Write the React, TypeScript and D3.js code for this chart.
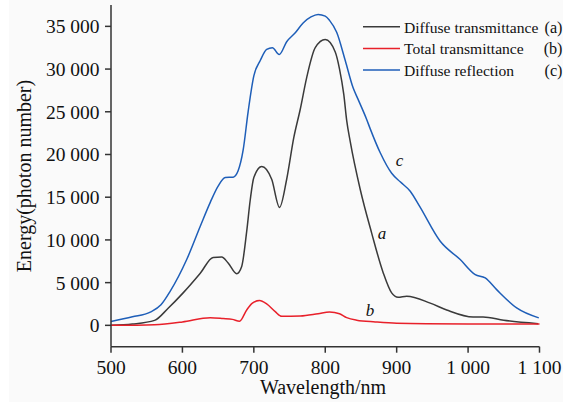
import React from "react";
import * as d3 from "d3";

const seriesA: [number, number][] = [
  [500, 0], [530, 150], [561, 580], [580, 2000], [601, 3800], [625, 6100], [643, 7950], [655, 8000],
  [664, 7300], [676, 6050], [683, 6900], [690, 11000], [695, 14700], [700, 17300], [711, 18600],
  [725, 17100], [736, 13800], [746, 17100], [756, 22000], [765, 25300], [774, 29000], [786, 32500],
  [800, 33450], [814, 32000], [820, 30000], [826, 27000], [830, 24000], [835, 21500], [849, 15900],
  [865, 10800], [881, 6200], [893, 3800], [902, 3280], [914, 3400], [947, 2600], [970, 1800],
  [1007, 980], [1021, 980], [1050, 600], [1098, 200],
];

const seriesB: [number, number][] = [
  [500, 0], [561, 80], [600, 400], [639, 900], [657, 800], [670, 700], [680, 480], [690, 1800],
  [698, 2600], [708, 2900], [718, 2500], [730, 1600], [739, 1050], [765, 1080], [790, 1350],
  [806, 1550], [820, 1350], [830, 900], [844, 600], [870, 400], [900, 250], [1000, 170], [1100, 150],
];

const seriesC: [number, number][] = [
  [500, 450], [530, 1000], [555, 1550], [570, 2400], [583, 4000], [606, 7700], [625, 11600],
  [639, 14400], [650, 16300], [660, 17300], [671, 17350], [678, 18100], [685, 20500], [692, 25000],
  [700, 29200], [709, 31000], [718, 32300], [726, 32500], [735.5, 31700], [746, 33200], [758, 34250],
  [769, 35400], [780, 36100], [790, 36400], [800, 36200], [806, 35700], [816, 34300], [828, 31000],
  [839, 27800], [846, 26450], [858, 24100], [863, 23000], [877, 20200], [893, 17800], [905, 16800],
  [919, 15700], [932, 13950], [961, 9840], [989, 7700], [1010, 5940], [1024, 5550], [1040, 4180],
  [1068, 2040], [1099, 870],
];

const xTicks = [500, 600, 700, 800, 900, 1000, 1100];
const yTicks = [0, 5000, 10000, 15000, 20000, 25000, 30000, 35000];

const legendNames = ["Diffuse transmittance", "Total transmittance", "Diffuse reflection"];
const legendTags = ["(a)", "(b)", "(c)"];
const curveTags = ["a", "b", "c"];
const curveTagAt: [number, number][] = [
  [879.5, 10100],
  [862.7, 1100],
  [904, 18650],
];
const colors = ["#3a3a3a", "#e8202a", "#1e5eb8"];

const FONT = "'Liberation Serif', 'Times New Roman', serif";

export default function App() {
  const x = d3.scaleLinear().domain([500, 1100]).range([111, 539.5]);
  const y = d3.scaleLinear().domain([-2500, 37500]).range([346.7, 5]);
  const line = d3
    .line<[number, number]>()
    .x((d) => x(d[0]))
    .y((d) => y(d[1]))
    .curve(d3.curveMonotoneX);
  const fmt = (v: number) => d3.format(",")(v).replace(/,/g, " ");
  const series = [seriesA, seriesB, seriesC];
  const axisColor = "#333";
  return (
    <svg width={575} height={402} style={{ position: "absolute", left: 0, top: 0 }} fontFamily={FONT}>
      <rect x={0} y={0} width={575} height={402} fill="#ffffff" />
      <rect x={9} y={0} width={554} height={402} fill="#fafafa" />
      {series.map((s, i) => (
        <path key={i} d={line(s) || ""} fill="none" stroke={colors[i]} strokeWidth={1.5} />
      ))}
      <line x1={x(500)} x2={x(500)} y1={y(37500)} y2={y(-2500)} stroke={axisColor} strokeWidth={1.5} />
      <line x1={x(500)} x2={x(1100)} y1={y(-2500)} y2={y(-2500)} stroke={axisColor} strokeWidth={1.5} />
      {yTicks.map((t) => (
        <g key={t}>
          <line x1={x(500) - 6} x2={x(500)} y1={y(t)} y2={y(t)} stroke={axisColor} strokeWidth={1.5} />
          <text x={99.5} y={y(t) + 7} fontSize={19.5} textAnchor="end" fill="#111">
            {fmt(t)}
          </text>
        </g>
      ))}
      {xTicks.map((t) => (
        <g key={t}>
          <line x1={x(t)} x2={x(t)} y1={y(-2500)} y2={y(-2500) + 6} stroke={axisColor} strokeWidth={1.5} />
          <text x={x(t)} y={374} fontSize={19.5} textAnchor="middle" fill="#111">
            {fmt(t)}
          </text>
        </g>
      ))}
      <text x={323} y={394} fontSize={20} textAnchor="middle" fill="#111">
        Wavelength/nm
      </text>
      <text transform="translate(31,176) rotate(-90)" fontSize={20} textAnchor="middle" fill="#111">
        Energy(photon number)
      </text>
      {legendNames.map((n, i) => {
        const ly = 26.7 + i * 21.7;
        return (
          <g key={n}>
            <line x1={363} x2={400} y1={ly} y2={ly} stroke={colors[i]} strokeWidth={1.5} />
            <text x={404} y={ly + 6} fontSize={15.6} fill="#111">
              {n}
            </text>
            <text x={562.5} y={ly + 6} fontSize={16.2} textAnchor="end" fill="#111">
              {legendTags[i]}
            </text>
          </g>
        );
      })}
      {curveTags.map((t, i) => (
        <text
          key={t}
          x={x(curveTagAt[i][0])}
          y={y(curveTagAt[i][1])}
          fontSize={17}
          fontStyle="italic"
          textAnchor="middle"
          fill="#111"
        >
          {t}
        </text>
      ))}
    </svg>
  );
}
